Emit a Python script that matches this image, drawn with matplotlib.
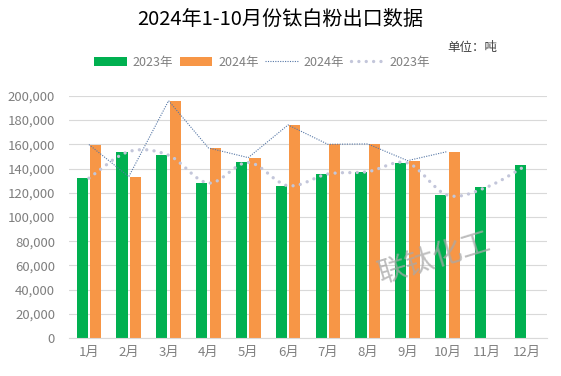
import matplotlib
matplotlib.use("Agg")
import matplotlib.pyplot as plt
from matplotlib.path import Path
from matplotlib.patches import PathPatch, Patch
from matplotlib.lines import Line2D
from matplotlib.ticker import FuncFormatter
import numpy as np

plt.rcParams['font.family'] = ['Noto Sans CJK SC', 'DejaVu Sans']

months = ['1月', '2月', '3月', '4月', '5月', '6月', '7月', '8月', '9月', '10月', '11月', '12月']
exports_2023 = [132000, 154000, 151000, 128000, 145000, 125800, 135500, 137400, 144600, 118000, 124800, 143000]
exports_2024 = [159800, 133300, 196000, 157000, 149000, 176000, 160000, 160300, 146500, 154000]

title = '2024年1-10月份钛白粉出口数据'
unit_label = '单位：吨'
watermark = '联钛化工'

GREEN = '#00b050'
ORANGE = '#f79646'
LINE24 = '#5677a6'
LINE23 = '#c3c6da'
TXT = '#7f7f7f'

fig = plt.figure(figsize=(5.61, 3.76), dpi=100)
ax = fig.add_axes([0.123, 0.101, 0.852, 0.644])

x = np.arange(len(months))
x24 = np.arange(len(exports_2024))
w = 0.28
ax.bar(x - 0.17, exports_2023, width=w, color=GREEN, zorder=2)
ax.bar(x24 + 0.17, exports_2024, width=w, color=ORANGE, zorder=2)

# 2024 thin dotted line
ax.plot(x24, exports_2024, color=LINE24, lw=0.8, linestyle=(0, (1, 1.2)), zorder=3)

# 2023 smoothed dotted line (Bezier through data points)
pts = np.column_stack([x, exports_2023]).astype(float)
verts = [tuple(pts[0])]
codes = [Path.MOVETO]
n = len(pts)
for i in range(n - 1):
    p0 = pts[i - 1] if i > 0 else pts[i]
    p1 = pts[i]
    p2 = pts[i + 1]
    p3 = pts[i + 2] if i + 2 < n else pts[i + 1]
    c1 = p1 + (p2 - p0) / 6.0
    c2 = p2 - (p3 - p1) / 6.0
    verts += [tuple(c1), tuple(c2), tuple(p2)]
    codes += [Path.CURVE4] * 3
patch = PathPatch(Path(verts, codes), facecolor='none', edgecolor=LINE23, lw=2.4,
                  linestyle=(0, (0.01, 2.2)), capstyle='round', zorder=4)
ax.add_patch(patch)

ax.set_xlim(-0.5, len(months) - 0.5)
ax.set_ylim(0, 200000)
ax.set_yticks(np.arange(0, 200001, 20000))
ax.yaxis.set_major_formatter(FuncFormatter(lambda v, p: f'{int(v):,}'))
ax.set_xticks(x)
ax.set_xticklabels(months)
ax.grid(axis='y', color='#d9d9d9', lw=0.8, zorder=0)
ax.set_axisbelow(True)
for s in ['top', 'right', 'left']:
    ax.spines[s].set_visible(False)
ax.spines['bottom'].set_color('#d9d9d9')
ax.tick_params(axis='both', length=0, colors=TXT, labelsize=9.5)
ax.tick_params(axis='y', pad=10)
ax.tick_params(axis='x', pad=6)

fig.text(0.5, 0.947, title, ha='center', va='center', fontsize=14.5, color='#000000',
         fontweight='medium')
fig.text(0.886, 0.874, unit_label, ha='right', va='center', fontsize=9, color='#404040')

handles = [
    Patch(facecolor=GREEN, edgecolor='none'),
    Patch(facecolor=ORANGE, edgecolor='none'),
    Line2D([], [], color=LINE24, lw=0.8, linestyle=(0, (1, 1.2))),
    Line2D([], [], color=LINE23, lw=2.4, linestyle=(0, (0.01, 2.2)), dash_capstyle='round'),
]
labels = ['2023年', '2024年', '2024年', '2023年']
leg = fig.legend(handles, labels, loc='center', bbox_to_anchor=(0.467, 0.834), ncol=4,
                 frameon=False, fontsize=9, handlelength=2.6, handleheight=0.8,
                 handletextpad=0.45, columnspacing=0.55, labelcolor=TXT)

ax.text(0.765, 0.33, watermark, transform=ax.transAxes, rotation=17, ha='center', va='center',
        fontsize=21, color='#a8a8a8', alpha=0.75, fontweight='light', zorder=5)

fig.savefig('out.png', dpi=100)
